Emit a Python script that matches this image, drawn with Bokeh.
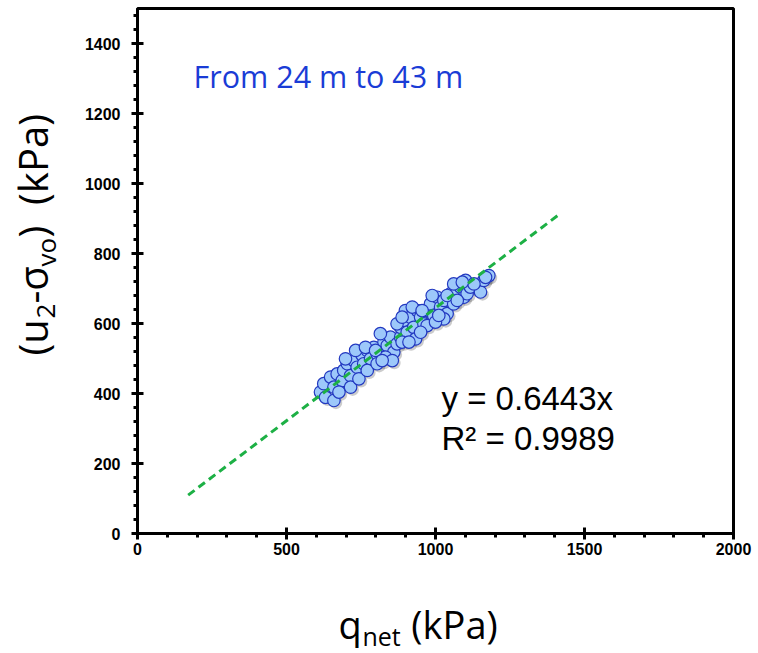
import math
from bokeh.plotting import figure
from bokeh.layouts import row, column
from bokeh.models import Label, SingleIntervalTicker, ColumnDataSource, Range1d
from bokeh.transform import dodge
from bokeh.embed import file_html
from bokeh.resources import INLINE

# ---- data ----
q_net = [614, 631, 625, 648, 659, 670, 687, 692, 704, 715, 726, 737, 754, 759, 771,
         782, 793, 804, 821, 827, 838, 849, 860, 815, 871, 883, 883, 894, 899, 905,
         916, 927, 933, 939, 950, 961, 972, 983, 994, 1006, 1017, 1028, 1039, 1050, 1061,
         1073, 1084, 1095, 1101, 1106, 1117, 1151, 1179, 1162, 1168, 1129, 1028, 972, 989,
         1061, 659, 676, 715, 743, 771, 804, 832, 855, 888, 911, 950, 922, 1000, 1039,
         1073, 1090, 1011, 955, 871, 888, 698, 732, 765, 799, 821]
u2_minus_svo = [404, 389, 428, 447, 418, 456, 437, 466, 485, 451, 494, 475, 509, 485, 523,
                499, 532, 513, 523, 547, 537, 561, 518, 571, 542, 561, 589, 609, 637, 575,
                618, 589, 556, 637, 618, 599, 637, 656, 623, 675, 647, 666, 628, 685, 656,
                694, 704, 675, 723, 685, 704, 690, 737, 723, 732, 713, 613, 594, 680,
                713, 380, 404, 418, 442, 466, 485, 504, 494, 547, 547, 575, 647, 604, 680,
                666, 718, 623, 637, 599, 618, 499, 523, 532, 523, 494]
fit_slope = 0.6443
fit_r2 = 0.9989
fit_x = [170, 1410]
fit_y = [fit_slope * v for v in fit_x]

x_ticks_interval = 500
y_ticks_interval = 200

F = "Open Sans"
NB = "\u00a0"

# ---- main plot ----
p = figure(width=678, height=565, x_range=(0, 2000), y_range=(0, 1500),
           output_backend="svg", toolbar_location=None,
           min_border_left=57, min_border_right=25, min_border_top=8,
           min_border_bottom=32)

p.xgrid.visible = False
p.ygrid.visible = False
p.outline_line_color = "black"
p.outline_line_width = 3
p.background_fill_color = "white"
p.border_fill_color = "white"

p.xaxis.ticker = SingleIntervalTicker(interval=x_ticks_interval, num_minor_ticks=5)
p.yaxis.ticker = SingleIntervalTicker(interval=y_ticks_interval, num_minor_ticks=5)
for ax in (p.xaxis, p.yaxis):
    ax.axis_line_width = 3
    ax.axis_line_color = "black"
    ax.major_tick_line_width = 3
    ax.major_tick_line_color = "black"
    ax.minor_tick_line_width = 3
    ax.minor_tick_line_color = "black"
    ax.major_tick_in = 6
    ax.major_tick_out = 6
    ax.minor_tick_in = 0
    ax.minor_tick_out = 4
    ax.major_label_text_font = "Liberation Sans"
    ax.major_label_text_font_style = "bold"
    ax.major_label_text_font_size = "16px"
    ax.major_label_text_color = "black"
p.xaxis.major_label_standoff = 3
p.yaxis.major_label_standoff = 11

src = ColumnDataSource(dict(x=q_net, y=u2_minus_svo))
# soft drop shadow under the markers
p.scatter(dodge("x", 7), dodge("y", -7), source=src, size=12.5, fill_color="#333333",
          fill_alpha=0.25, line_color=None)
p.scatter("x", "y", source=src, size=12.5, fill_color="#9DC8FA",
          line_color="#2238C0", line_width=1.2)

p.line(fit_x, fit_y, line_color="#1DB045", line_width=3, line_dash="8 5")

p.add_layout(Label(x=0, y=0, x_offset=56, y_offset=458, text="From 24 m to 43 m",
                   text_font="Open Sans", text_font_size="30.5px", text_color="#1A3CD6",
                   text_baseline="middle"))
p.add_layout(Label(x=0, y=0, x_offset=304, y_offset=135, text="y = %.4fx" % fit_slope,
                   text_font="Liberation Sans", text_font_size="33px", text_color="black",
                   text_baseline="middle"))
p.add_layout(Label(x=0, y=0, x_offset=304, y_offset=95, text="R\u00b2 = %.4f" % fit_r2,
                   text_font="Liberation Sans", text_font_size="33px", text_color="black",
                   text_baseline="middle"))


def helper(w, h, xr, left=0, right=0):
    f = figure(width=w, height=h, x_range=Range1d(*xr), y_range=Range1d(0, h),
               x_axis_type=None, y_axis_type=None, toolbar_location=None, title=None,
               output_backend="svg", min_border=0, min_border_left=left,
               min_border_right=right, min_border_top=0, min_border_bottom=0)
    f.outline_line_color = None
    f.background_fill_color = "white"
    f.border_fill_color = "white"
    return f


# ---- x axis title: q_net (kPa) ; helper frame spans page x 137..733, y 565..653 ----
bx = helper(678, 88, (137, 733), left=57, right=25)
BH = 653  # page y of bx bottom -> y = BH - py maps into bx range (0, 88)
def labx(x, py, s, size):
    bx.add_layout(Label(x=x, y=BH - py, text=s, text_font=F, text_font_size=size,
                        text_color="black", text_baseline="middle", text_align="left"))
labx(338, 623, "q", "38px")
labx(362, 635, "net", "25px")
labx(401, 623, NB + "(kPa)", "38px")

# ---- y axis title: (u2-σvo)  (kPa), rotated; helper spans page x 0..80, y 0..653 ----
a = math.pi / 2
ly = helper(80, 653, (0, 80))
def laby(px, py, s, size):
    ly.add_layout(Label(x=px, y=653 - py, text=s, angle=a, text_font=F,
                        text_font_size=size, text_color="black",
                        text_baseline="middle", text_align="left"))
laby(32, 355, "(u", "40px")
laby(45, 318, "2", "26px")
laby(32, 303, "-\u03c3", "40px")
laby(45, 266, "vo", "26px")
laby(32, 237, ")" + NB + NB + "(kPa)", "40px")

layout = row(ly, column(p, bx, spacing=0), spacing=0)

open("out.html", "w").write(file_html(layout, INLINE))
